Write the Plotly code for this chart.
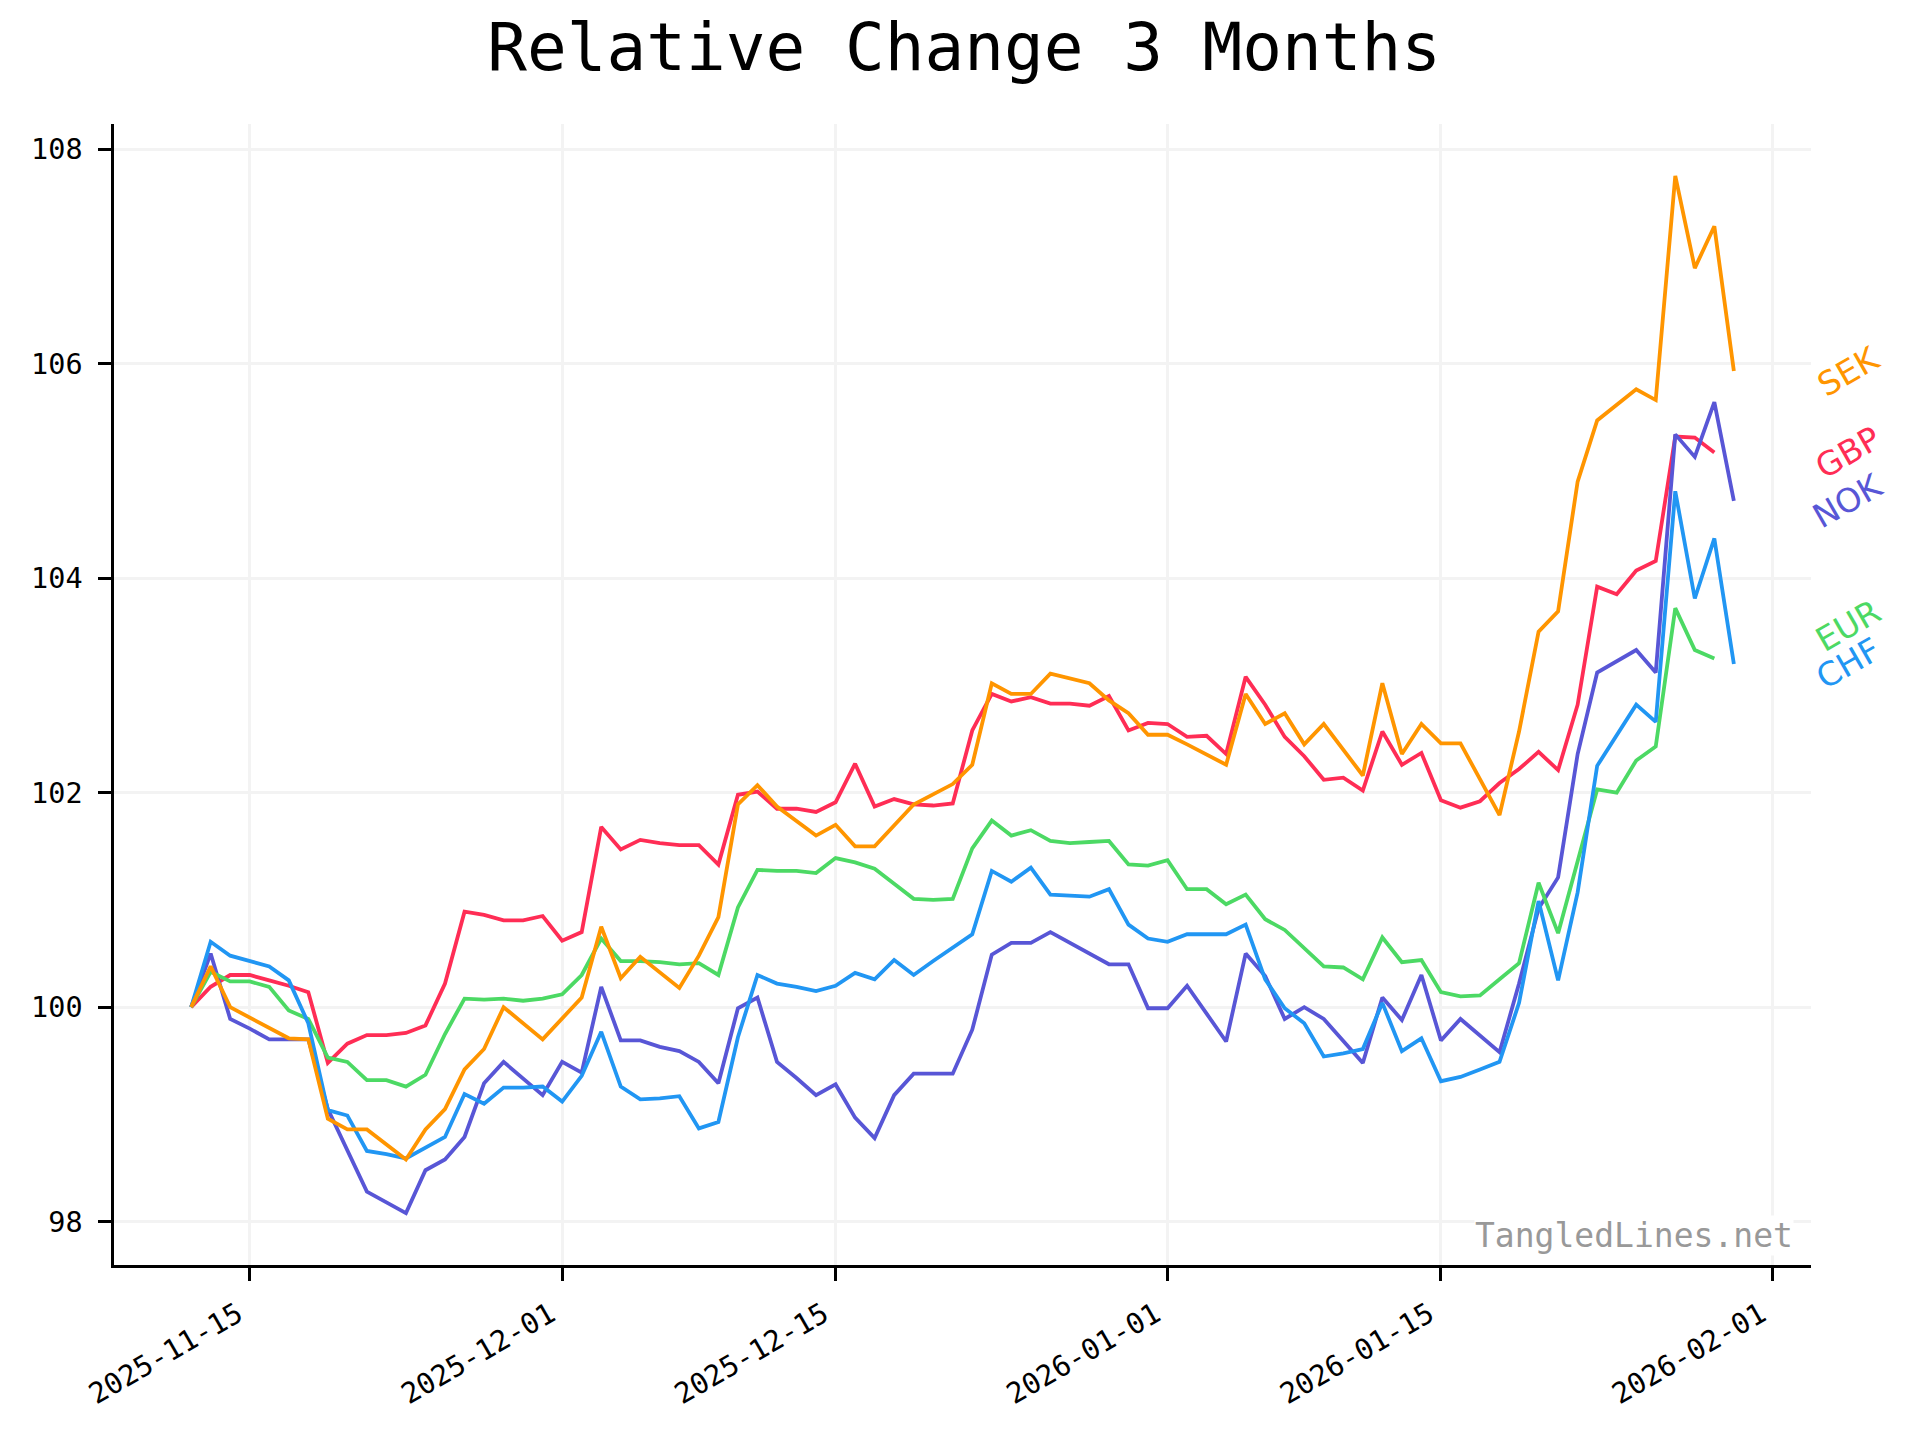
import pandas as pd
import plotly.graph_objects as go

# ---- data -----------------------------------------------------------------
dates = pd.date_range("2025-11-12", "2026-01-30", freq="D")

GBP = [100.00, 100.19, 100.30, 100.30, 100.25, 100.20, 100.14, 99.48, 99.66, 99.74,
       99.74, 99.76, 99.83, 100.22, 100.89, 100.86, 100.81, 100.81, 100.85, 100.62,
       100.70, 101.68, 101.47, 101.56, 101.53, 101.51, 101.51, 101.33, 101.98, 102.01,
       101.85, 101.85, 101.82, 101.91, 102.27, 101.87, 101.94, 101.89, 101.88, 101.90,
       102.58, 102.92, 102.85, 102.89, 102.83, 102.83, 102.81, 102.90, 102.58, 102.65,
       102.64, 102.52, 102.53, 102.36, 103.08, 102.82, 102.52, 102.34, 102.12, 102.14,
       102.02, 102.57, 102.26, 102.37, 101.93, 101.86, 101.92, 102.09, 102.22, 102.38,
       102.21, 102.82, 103.92, 103.85, 104.07, 104.16, 105.32, 105.31, 105.17, None]

SEK = [100.00, 100.38, 100.00, None, 99.80, 99.71, 99.70, 98.96, 98.86, 98.86,
       None, 98.58, 98.86, 99.05, 99.42, 99.61, 100.00, None, 99.70, 99.90,
       100.09, 100.75, 100.27, 100.47, None, 100.18, 100.48, 100.84, 101.89, 102.07,
       101.87, None, 101.60, 101.70, 101.50, 101.50, 101.69, 101.89, None, 102.08,
       102.26, 103.02, 102.92, 102.92, 103.11, None, 103.02, 102.86, 102.74, 102.54,
       102.54, 102.45, None, 102.26, 102.92, 102.64, 102.74, 102.45, 102.64, None,
       102.16, 103.02, 102.36, 102.64, 102.46, 102.46, None, 101.79, 102.57, 103.50,
       103.69, 104.90, 105.47, None, 105.76, 105.66, 107.75, 106.89, 107.28, 105.93]

EUR = [100.00, 100.33, 100.24, 100.24, 100.19, 99.97, 99.89, 99.53, 99.49, 99.32,
       99.32, 99.26, 99.37, 99.75, 100.08, 100.07, 100.08, 100.06, 100.08, 100.12,
       100.30, 100.64, 100.43, 100.43, 100.42, 100.40, 100.41, 100.30, 100.93, 101.28,
       101.27, 101.27, 101.25, 101.39, 101.35, 101.29, 101.15, 101.01, 101.00, 101.01,
       101.48, 101.74, 101.60, 101.65, 101.55, 101.53, 101.54, 101.55, 101.33, 101.32,
       101.37, 101.10, 101.10, 100.96, 101.05, 100.82, 100.72, 100.55, 100.38, 100.37,
       100.26, 100.65, 100.42, 100.44, 100.14, 100.10, 100.11, 100.26, 100.41, 101.16,
       100.69, 101.36, 102.03, 102.00, 102.30, 102.43, 103.72, 103.33, 103.25, None]

CHF = [100.00, 100.61, 100.48, 100.43, 100.38, 100.25, 99.85, 99.04, 98.99, 98.66,
       98.63, 98.59, 98.69, 98.79, 99.19, 99.10, 99.25, 99.25, 99.26, 99.12,
       99.36, 99.77, 99.26, 99.14, 99.15, 99.17, 98.87, 98.93, 99.72, 100.30,
       100.22, 100.19, 100.15, 100.20, 100.32, 100.26, 100.44, 100.30, 100.43, 100.56,
       100.68, 101.27, 101.17, 101.30, 101.05, 101.04, 101.03, 101.10, 100.77, 100.64,
       100.61, 100.68, 100.68, 100.68, 100.77, 100.26, 99.99, 99.85, 99.54, 99.57,
       99.61, 100.04, 99.59, 99.71, 99.31, 99.35, 99.42, 99.49, 100.04, 100.99,
       100.25, 101.07, 102.25, 102.53, 102.82, 102.66, 104.81, 103.81, 104.37, 103.20]

NOK = [100.00, 100.50, 99.89, 99.80, 99.70, 99.70, 99.70, 99.05, 98.66, 98.28,
       98.18, 98.08, 98.48, 98.58, 98.79, 99.29, 99.49, 99.34, 99.18, 99.49,
       99.39, 100.19, 99.69, 99.69, 99.63, 99.59, 99.49, 99.29, 99.99, 100.09,
       99.49, 99.34, 99.18, 99.28, 98.97, 98.78, 99.18, 99.38, 99.38, 99.38,
       99.79, 100.49, 100.60, 100.60, 100.70, 100.60, 100.50, 100.40, 100.40, 99.99,
       99.99, 100.20, 99.94, 99.68, 100.50, 100.29, 99.89, 100.00, 99.89, 99.69,
       99.48, 100.09, 99.88, 100.30, 99.69, 99.89, 99.74, 99.58, 100.22, 100.92,
       101.21, 102.36, 103.12, 103.23, 103.33, 103.12, 105.34, 105.13, 105.64, 104.72]

series_names = ["GBP", "NOK", "EUR", "CHF", "SEK"]
series_values = {"GBP": GBP, "NOK": NOK, "EUR": EUR, "CHF": CHF, "SEK": SEK}
colors = {"SEK": "#FF9500", "GBP": "#FF2D55", "NOK": "#5856D6",
          "EUR": "#4CD964", "CHF": "#2196F3"}

x_tick_dates = ["2025-11-15", "2025-12-01", "2025-12-15",
                "2026-01-01", "2026-01-15", "2026-02-01"]
y_ticks = [98, 100, 102, 104, 106, 108]

TITLE = "Relative Change 3 Months"
WATERMARK = "TangledLines.net"

# ---- figure ---------------------------------------------------------------
MONO = "DejaVu Sans Mono"
fig = go.Figure()

for name in series_names:
    fig.add_trace(go.Scatter(
        x=dates, y=series_values[name], mode="lines", name=name,
        connectgaps=True,
        line=dict(color=colors[name], width=3.8),
        showlegend=False,
    ))

# axis ranges with 5% margins (matplotlib style)
all_vals = [v for s in series_values.values() for v in s if v is not None]
vmin, vmax = min(all_vals), max(all_vals)
ypad = (vmax - vmin) * 0.05
span = dates[-1] - dates[0]
xpad = span * 0.05

# end labels, nudged apart to avoid overlap
last_vals = {}
for name in series_names:
    vals = [v for v in series_values[name] if v is not None]
    last_vals[name] = vals[-1]
order = sorted(last_vals, key=lambda n: last_vals[n])
min_gap = 0.36
label_y = {}
prev = None
for n in order:
    y = last_vals[n]
    if prev is not None and y < prev + min_gap:
        y = prev + min_gap
    label_y[n] = y
    prev = y

annotations = []
for n in series_names:
    annotations.append(dict(
        x=1, xref="paper", xshift=37, y=label_y[n], yref="y",
        text=n, showarrow=False, textangle=-30,
        xanchor="center", yanchor="middle",
        font=dict(family="DejaVu Sans", size=33, color=colors[n]),
    ))
annotations.append(dict(
    x=0.99, xref="paper", y=0.008, yref="paper",
    text=WATERMARK, showarrow=False, xanchor="right", yanchor="bottom",
    font=dict(family=MONO, size=33, color="#999999"),
    bgcolor="white", borderpad=0,
))

axis_common = dict(
    showline=True, linecolor="black", linewidth=2.5,
    ticks="outside", ticklen=13, tickwidth=2.5, tickcolor="black",
    showgrid=True, gridcolor="#f3f3f3", gridwidth=2.5,
    zeroline=False, mirror=False,
    tickfont=dict(family=MONO, size=28.5, color="black"),
)

fig.update_layout(
    width=1920, height=1440,
    margin=dict(l=106, r=117, t=116, b=183),
    paper_bgcolor="white", plot_bgcolor="white",
    title=dict(text=TITLE, x=0.501, xref="paper", xanchor="center",
               y=1 - 39 / 1440, yref="container", yanchor="middle",
               font=dict(family=MONO, size=66, color="black")),
    xaxis=dict(type="date", range=[dates[0] - xpad, dates[-1] + xpad],
               tickvals=x_tick_dates, ticktext=x_tick_dates,
               tickangle=-30, ticklabelshift=-12, ticklabelstandoff=6,
               **axis_common),
    yaxis=dict(range=[vmin - ypad, vmax + ypad], tickvals=y_ticks,
               ticktext=[str(t) for t in y_ticks], ticklabelstandoff=10,
               **axis_common),
    annotations=annotations,
)

fig.write_html("out.html")
